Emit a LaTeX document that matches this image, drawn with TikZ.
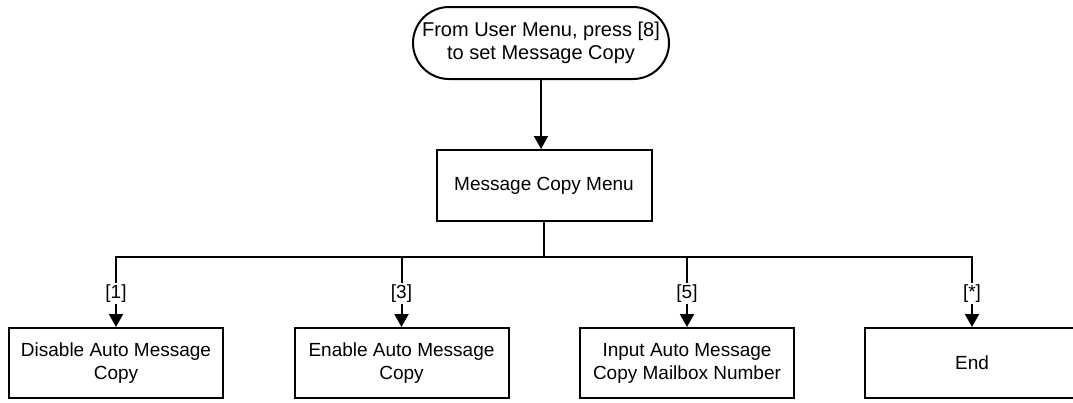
\documentclass[tikz,border=0pt]{standalone}
\usepackage{fontspec}
\setmainfont{Liberation Sans}
\usetikzlibrary{arrows.meta,shapes.misc}
\begin{document}
\begin{tikzpicture}[x=1pt,y=-1pt,
  every node/.style={font=\fontsize{19}{23}\selectfont, align=center, inner sep=0pt},
  terminal/.style={draw, line width=2pt, rounded rectangle, minimum width=256pt, minimum height=72pt,
    font=\fontsize{20}{23}\selectfont},
  box/.style={draw, line width=2pt, rectangle, minimum width=214pt, minimum height=70pt},
  link/.style={line width=2pt},
  arrow/.style={link, -{Triangle[width=14pt,length=13pt]}},
  key/.style={fill=white, inner sep=2pt}
]
\clip (0,0) rectangle (1073,402);

\node[terminal] (start) at (541,43) {From User Menu, press [8]\\to set Message Copy};
\node[box, minimum width=215pt, minimum height=71pt] (menu) at (544,185.5) {Message Copy Menu};

\node[box] (disable) at (116,363) {Disable Auto Message\\Copy};
\node[box] (enable)  at (401.5,363) {Enable Auto Message\\Copy};
\node[box] (input)   at (687,363) {Input Auto Message\\Copy Mailbox Number};
\node[box] (finish)  at (972,363) {End};

\coordinate (split) at (544,257);

\draw[arrow] (start.south) -- (start.south |- menu.north);
\draw[link] (menu.south) -- (split);
\draw[arrow] (split) -| node[key, pos=0.76] {[1]} (disable.north);
\draw[arrow] (split) -| node[key, pos=0.76] {[3]} (enable.north);
\draw[arrow] (split) -| node[key, pos=0.76] {[5]} (input.north);
\draw[arrow] (split) -| node[key, pos=0.76] {[*]} (finish.north);
\end{tikzpicture}
\end{document}
